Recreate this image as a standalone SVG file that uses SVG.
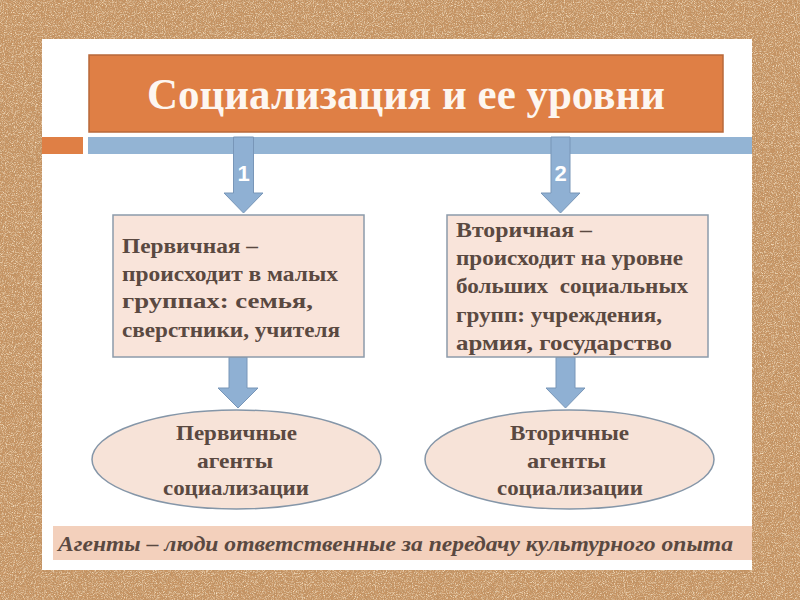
<svg xmlns="http://www.w3.org/2000/svg" width="800" height="600" viewBox="0 0 800 600">
<defs>
<filter id="cork" x="0" y="0" width="100%" height="100%">
<feTurbulence type="fractalNoise" baseFrequency="0.6" numOctaves="3" seed="7"/>
<feColorMatrix type="matrix" values="0 0 0 0 0.48  0 0 0 0 0.28  0 0 0 0 0.13  2.4 0 0 0 -1.0"/>
</filter>
<filter id="cork2" x="0" y="0" width="100%" height="100%">
<feTurbulence type="fractalNoise" baseFrequency="1.1" numOctaves="2" seed="3"/>
<feColorMatrix type="matrix" values="0 0 0 0 0.94  0 0 0 0 0.80  0 0 0 0 0.60  0 2.2 0 0 -1.0"/>
</filter>
<style>
.arrow{fill:#8FB0D3;stroke:#7896B8;stroke-width:1}
.box{fill:#F9E4DA;stroke:#8C9BAA;stroke-width:1.5}
.ell{fill:#F7E3D8;stroke:#8596A8;stroke-width:1.5}
.t{font-family:"Liberation Serif","Times New Roman","DejaVu Serif",serif;font-weight:bold;font-size:21px;fill:#5A4941}
.c{text-anchor:middle}
.num{font-family:"Liberation Sans","DejaVu Sans",sans-serif;font-weight:bold;font-size:22px;fill:#FFFFFF;text-anchor:middle}
</style>
</defs>
<rect x="0" y="0" width="800" height="600" fill="#C79463"/>
<rect x="0" y="0" width="800" height="600" filter="url(#cork)"/>
<rect x="0" y="0" width="800" height="600" filter="url(#cork2)"/>
<rect x="42" y="39" width="710" height="531" fill="#FFFFFF"/>

<g id="title">
<rect x="89" y="55" width="634" height="77" fill="#DF7F45" stroke="#B8683A" stroke-width="1.5"/>
<text x="406" y="109" font-family="Liberation Serif, Times New Roman, DejaVu Serif, serif" font-weight="bold" font-size="45" fill="#FDF6F0" text-anchor="middle" textLength="518" lengthAdjust="spacingAndGlyphs">Социализация и ее уровни</text>
</g>
<g id="bars">
<rect x="42" y="137" width="41" height="17" fill="#DF7F45"/>
<rect x="88" y="137" width="664" height="17" fill="#93B4D4"/>
</g>

<g id="connectors">
<path class="arrow" d="M233.5,137 H253.5 V193 H263 L243.5,213 L224,193 H233.5 Z"/>
<text class="num" x="243.5" y="181">1</text>
<path class="arrow" d="M551,137 H570 V193 H580 L560.5,213 L541,193 H551 Z"/>
<text class="num" x="560.5" y="181">2</text>
<path class="arrow" d="M229,357 H247 V388 H258 L238,408 L218,388 H229 Z"/>
<path class="arrow" d="M556,357 H575 V388 H585 L565.5,408 L546,388 H556 Z"/>
</g>

<g id="box1">
<rect class="box" x="113" y="215" width="251" height="142"/>
<text class="t" x="122" y="253" textLength="136" lengthAdjust="spacingAndGlyphs">Первичная –</text>
<text class="t" x="122" y="281" textLength="216" lengthAdjust="spacingAndGlyphs">происходит в малых</text>
<text class="t" x="122" y="308" textLength="191" lengthAdjust="spacingAndGlyphs">группах: семья,</text>
<text class="t" x="122" y="337" textLength="218" lengthAdjust="spacingAndGlyphs">сверстники, учителя</text>
</g>

<g id="box2">
<rect class="box" x="447" y="215" width="261" height="142"/>
<text class="t" x="456" y="237" textLength="136" lengthAdjust="spacingAndGlyphs">Вторичная –</text>
<text class="t" x="456" y="265" textLength="227" lengthAdjust="spacingAndGlyphs">происходит на уровне</text>
<text class="t" x="456" y="293" xml:space="preserve" textLength="232" lengthAdjust="spacingAndGlyphs">больших  социальных</text>
<text class="t" x="456" y="322" textLength="206" lengthAdjust="spacingAndGlyphs">групп: учреждения,</text>
<text class="t" x="456" y="350" textLength="216" lengthAdjust="spacingAndGlyphs">армия, государство</text>
</g>

<g id="ellipse1">
<ellipse class="ell" cx="236.5" cy="459.5" rx="144.5" ry="49.5"/>
<text class="t c" x="236.5" y="440" textLength="121" lengthAdjust="spacingAndGlyphs">Первичные</text>
<text class="t c" x="235" y="468" textLength="76" lengthAdjust="spacingAndGlyphs">агенты</text>
<text class="t c" x="236" y="495" textLength="146" lengthAdjust="spacingAndGlyphs">социализации</text>
</g>

<g id="ellipse2">
<ellipse class="ell" cx="569.5" cy="459.5" rx="144.5" ry="49.5"/>
<text class="t c" x="569.5" y="440" textLength="119" lengthAdjust="spacingAndGlyphs">Вторичные</text>
<text class="t c" x="566.5" y="468" textLength="79" lengthAdjust="spacingAndGlyphs">агенты</text>
<text class="t c" x="570" y="495" textLength="146" lengthAdjust="spacingAndGlyphs">социализации</text>
</g>

<g id="footer">
<rect x="53" y="526" width="699" height="34" fill="#F3D0BC"/>
<text x="58" y="551" font-family="Liberation Serif, Times New Roman, DejaVu Serif, serif" font-style="italic" font-weight="bold" font-size="22" fill="#5A4941" textLength="675" lengthAdjust="spacingAndGlyphs">Агенты – люди ответственные за передачу культурного опыта</text>
</g>
</svg>
